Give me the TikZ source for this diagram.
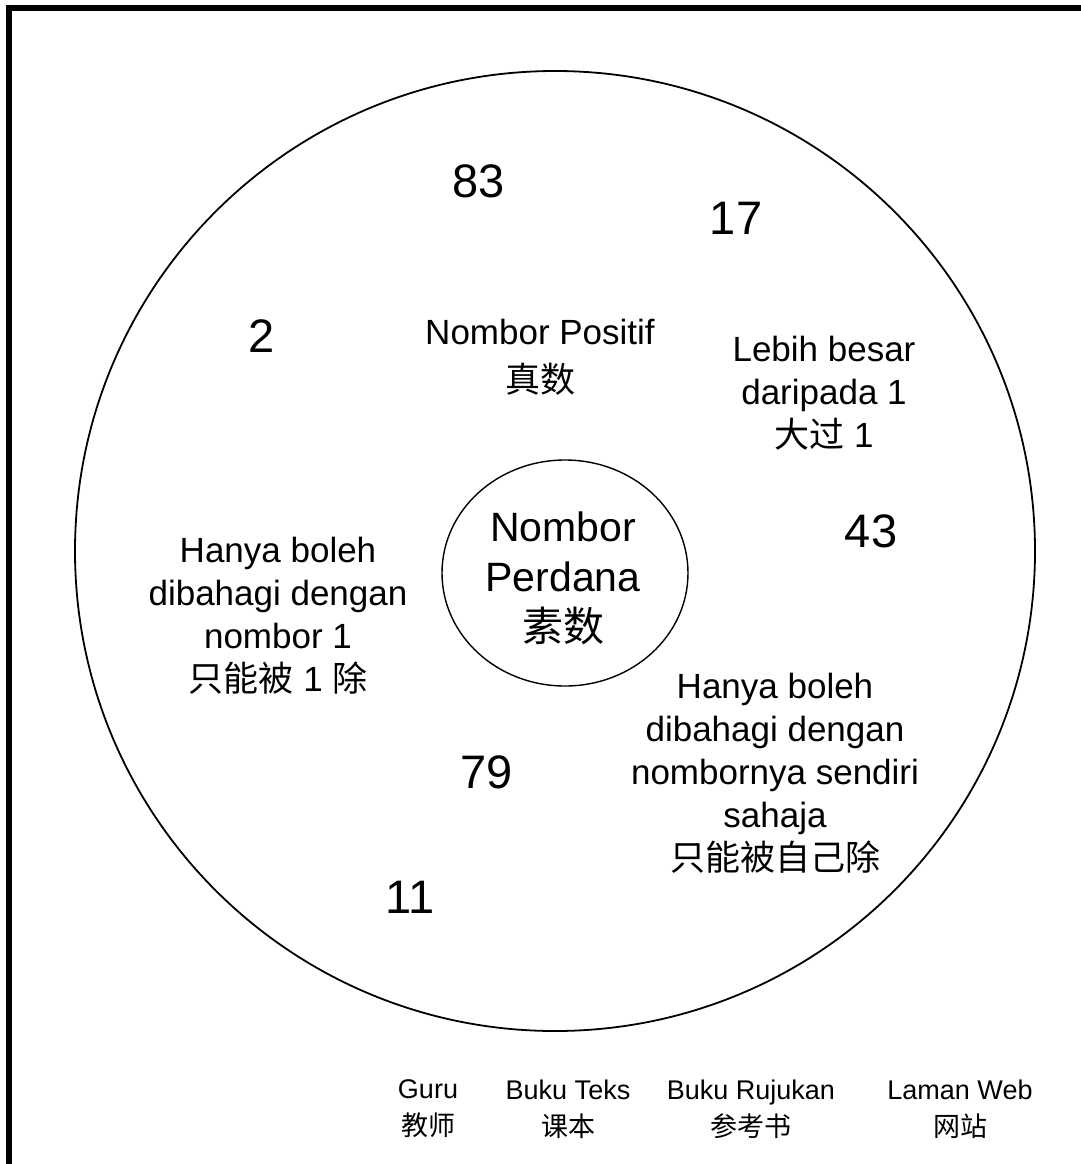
\documentclass[tikz,border=0pt]{standalone}
\usepackage{fontspec}
\usetikzlibrary{shapes.geometric}
\setmainfont{Liberation Sans}
\newfontfamily\cjk{Noto Sans CJK SC}
\begin{document}
\begin{tikzpicture}[x=1pt,y=-1pt,
  big/.style={font=\fontsize{47}{54}\selectfont, inner sep=0pt},
  mid/.style={font=\fontsize{35}{43}\selectfont, align=center, inner sep=0pt},
  centre/.style={font=\fontsize{41}{50}\selectfont, align=center, inner sep=0pt},
  small/.style={font=\fontsize{27}{37}\selectfont, align=center, inner sep=0pt}]
\useasboundingbox (0,0) rectangle (1081,1164);
\fill[white] (0,0) rectangle (1081,1164);
\coordinate (fb) at (9,1200);
\coordinate (fc) at (9,8);
\coordinate (fr) at (1100,8);
\draw[line width=6pt] (fb) -- (fc) -- (fr);
\node[draw, circle, line width=1.8pt, minimum size=960pt, inner sep=0pt] (outer) at (555,551) {};
\node[draw, ellipse, line width=1.4pt, minimum width=246pt, minimum height=226pt, inner sep=0pt] (inner) at (565,573) {};
\node[centre] (prime) at (563,578) {Nombor\\Perdana\\{\cjk 素数}};
\node[big] (n83) at (479,181) {83};
\node[big] (n17) at (736,218) {17};
\node[big] (n2) at (262,336) {2};
\node[big] (n43) at (871,531) {43};
\node[big] (n79) at (487,772) {79};
\node[big] (n11) at (410,897) {11};
\node[mid, font=\fontsize{35}{48}\selectfont] (pos) at (540,357) {Nombor Positif\\{\cjk 真数}};
\node[mid] (gt) at (824,393) {Lebih besar\\daripada 1\\{\cjk 大过} 1};
\node[mid] (one) at (278,616) {Hanya boleh\\dibahagi dengan\\nombor 1\\{\cjk 只能被} 1 {\cjk 除}};
\node[mid] (self) at (775,773) {Hanya boleh\\dibahagi dengan\\nombornya sendiri\\sahaja\\{\cjk 只能被自己除}};
\node[small] (guru) at (428,1109) {Guru\\{\cjk 教师}};
\node[small] (teks) at (568,1109) {Buku Teks\\{\cjk 课本}};
\node[small] (ruj) at (751,1109) {Buku Rujukan\\{\cjk 参考书}};
\node[small] (web) at (960,1109) {Laman Web\\{\cjk 网站}};
\end{tikzpicture}
\end{document}
